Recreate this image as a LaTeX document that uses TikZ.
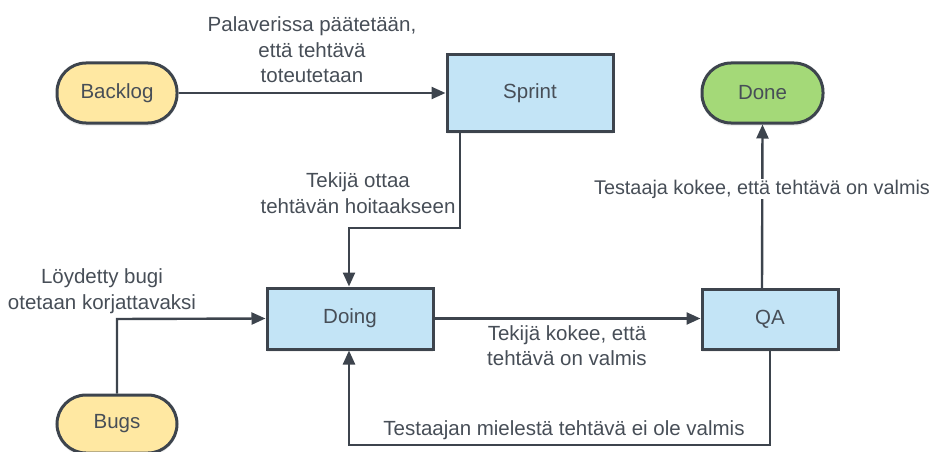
\documentclass[tikz,border=0pt]{standalone}
\usepackage{fontspec}
\setmainfont{Liberation Sans}
\usepackage{xcolor}
\usetikzlibrary{arrows.meta,positioning,shadows}
\definecolor{linegray}{HTML}{3D444D}
\definecolor{textgray}{HTML}{474E57}
\definecolor{pillyellow}{HTML}{FFE8A2}
\definecolor{boxblue}{HTML}{C3E4F6}
\definecolor{pillgreen}{HTML}{A4D978}

\begin{document}
\begin{tikzpicture}[
x=1pt,y=-1pt,
every node/.style={font=\fontsize{20.5}{25.5}\selectfont,text=textgray},
Pill/.style={draw=linegray,line width=3pt,rounded corners=29pt,minimum width=120pt,minimum height=60pt,inner sep=0pt,
  drop shadow={opacity=0.12,shadow xshift=0pt,shadow yshift=-3pt}},
Box/.style={draw=linegray,line width=3pt,fill=boxblue,inner sep=0pt,
  drop shadow={opacity=0.12,shadow xshift=0pt,shadow yshift=-3pt}},
Flow/.style={draw=linegray,line width=2.4pt,-{Triangle[length=14pt,width=12pt]}},
Label/.style={align=center,inner sep=1pt}
]
\useasboundingbox (0,0) rectangle (935,452);
\clip (0,0) rectangle (935,452);

% states
\node[Pill,fill=pillyellow] (Backlog) at (117,93) {Backlog};
\node[Box,minimum width=166pt,minimum height=76pt] (Sprint) at (530,93) {Sprint};
\node[Pill,fill=pillgreen,minimum width=121pt] (Done) at (762.5,93) {Done};
\node[Box,minimum width=166pt,minimum height=61pt] (Doing) at (350,318.5) {Doing};
\node[Box,minimum width=136pt,minimum height=60pt] (QA) at (770,319) {QA};
\node[Pill,fill=pillyellow,minimum height=58pt] (Bugs) at (117,424) {Bugs};

% bends
\coordinate (SprintOut) at (460,131);
\coordinate (SprintBend) at (460,228);
\coordinate (DoingTop) at (349,228);
\coordinate (BugsBend) at (117,319);
\coordinate (QAOut) at (770,349);
\coordinate (LoopRight) at (770,445);
\coordinate (LoopLeft) at (349,445);
\coordinate (QAUp) at (762,289);

% transitions
\draw[Flow] (Backlog.east) -- (Sprint.west);
\draw[Flow] (SprintOut) -- (SprintBend) -- (DoingTop) -- (DoingTop |- Doing.north);
\draw[Flow] (Bugs.north) -- (BugsBend) -- (Doing.west);
\draw[Flow] (Doing.east) -- (Doing.east -| QA.west);
\draw[Flow] (QAUp) -- (Done.south);
\draw[Flow] (QAOut) -- (LoopRight) -- (LoopLeft) -- (LoopLeft |- Doing.south);

% texts
\node[Label] (BacklogText) at (312,50) {Palaverissa päätetään,\\että tehtävä\\toteutetaan};
\node[Label] (SprintText) at (358,193) {Tekijä ottaa\\tehtävän hoitaakseen};
\node[Label] (BugsText) at (102,291) {Löydetty bugi\\otetaan korjattavaksi};
\node[Label] (DoingText) at (567,345.5) {Tekijä kokee, että\\tehtävä on valmis};
\node[Label,fill=white,font=\fontsize{19.8}{25}\selectfont] (QAText) at (762,189) {Testaaja kokee, että tehtävä on valmis};
\node[Label] (LoopText) at (564,430) {Testaajan mielestä tehtävä ei ole valmis};

\end{tikzpicture}
\end{document}
